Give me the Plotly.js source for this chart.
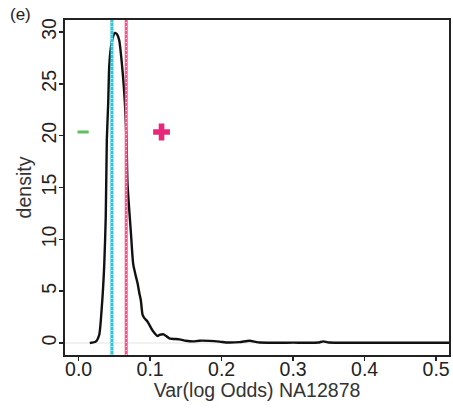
<!DOCTYPE html>
<html><head><meta charset="utf-8">
<script src="https://cdn.plot.ly/plotly-3.0.1.min.js"></script>
<style>html,body{margin:0;padding:0;background:#fff}#chart{width:453px;height:410px}</style>
</head><body><div id="chart"></div>
<script>
// density curve of Var(log Odds) NA12878
const densX = [0.0157,0.024,0.0288,0.0325,0.0358,0.038,0.0395,0.0414,0.0428,0.045,0.048,0.0508,0.0535,0.0568,0.0614,0.0648,0.067,0.0684,0.0732,0.0764,0.0802,0.0825,0.085,0.087,0.0895,0.092,0.0965,0.1035,0.1105,0.113,0.119,0.127,0.141,0.150,0.160,0.169,0.197,0.206,0.225,0.239,0.248,0.253,0.30,0.335,0.342,0.35,0.40,0.45,0.50,0.55];
const densY = [0.0,0.13,0.77,3.5,7.4,12.2,19.6,23.1,26.6,28.4,29.5,29.9,29.8,29.2,26.3,23.1,19.6,15.4,10.6,7.6,6.4,5.75,4.8,4.15,2.7,2.4,2.05,1.2,0.67,0.77,0.83,0.45,0.35,0.22,0.15,0.22,0.13,0.05,0.08,0.22,0.1,0.04,0.03,0.04,0.15,0.04,0.02,0.02,0.02,0.02];
// reference vertical lines
const vlineX = [0.0466, 0.0666];
const vlineColors = ['#35C2D3', '#F0568A'];
// minus / plus symbols
const symX = [0.0063, 0.116];
const symY = [20.35, 20.35];
const symbols = ['line-ew', 'cross'];
const symColors = ['#5CBF5C', '#E8287A'];
const xTicks = [0, 0.1, 0.2, 0.3, 0.4, 0.5];
const xTickText = ['0.0', '0.1', '0.2', '0.3', '0.4', '0.5'];
const yTicks = [0, 5, 10, 15, 20, 25, 30];
const xRange = [-0.019, 0.518];
const yRange = [-1.16, 31.15];

const traces = [
  {x: densX, y: densY, type: 'scatter', mode: 'lines', line: {color: '#111', width: 2.4, shape: 'spline', smoothing: 0.6}, hoverinfo: 'skip'},
  {x: [symX[0]], y: [symY[0]], type: 'scatter', mode: 'markers', marker: {symbol: symbols[0], size: 8, color: symColors[0], line: {color: symColors[0], width: 3}}},
  {x: [symX[1]], y: [symY[1]], type: 'scatter', mode: 'markers', marker: {symbol: symbols[1], size: 14, color: symColors[1], line: {width: 0}}},
  // carrier for the label axes (invisible)
  {x: [xTicks[0]], y: [yTicks[0]], xaxis: 'x2', yaxis: 'y2', type: 'scatter', mode: 'markers', marker: {opacity: 0, size: 1}, hoverinfo: 'skip'}
];

const shapes = [{type: 'line', xref: 'paper', x0: 0, x1: 1, yref: 'y', y0: 0, y1: 0, line: {color: '#ececec', width: 1.5}, layer: 'below'}];
vlineX.forEach((x, i) => {
  shapes.push({type: 'line', xref: 'x', x0: x, x1: x, yref: 'paper', y0: 0, y1: 1, line: {color: vlineColors[i], width: 3}});
  shapes.push({type: 'line', xref: 'x', x0: x, x1: x, yref: 'paper', y0: 0, y1: 1, line: {color: '#ffffff', width: 1, dash: '1px,3px'}});
});

const frameAxis = {
  showgrid: false, zeroline: false, showline: true, mirror: true, linecolor: '#222', linewidth: 2,
  ticks: 'outside', ticklen: 4, tickwidth: 1.5, tickcolor: '#222', showticklabels: false
};
const labelAxis = {
  showgrid: false, zeroline: false, showline: false, ticks: '', anchor: 'free', position: 0,
  tickfont: {size: 19.5, color: '#222'}
};

const layout = {
  width: 453, height: 410,
  margin: {l: 65, r: 4, t: 20, b: 55},
  paper_bgcolor: '#fff', plot_bgcolor: '#fff',
  showlegend: false,
  font: {family: 'Liberation Sans, Arial, sans-serif', color: '#222'},
  xaxis: Object.assign({}, frameAxis, {range: xRange, tickvals: xTicks}),
  yaxis: Object.assign({}, frameAxis, {range: yRange, tickvals: yTicks}),
  xaxis2: Object.assign({}, labelAxis, {overlaying: 'x', range: xRange, tickvals: xTicks, ticktext: xTickText,
    title: {text: 'Var(log Odds) NA12878', font: {size: 19.5, color: '#333'}, standoff: 2}}),
  yaxis2: Object.assign({}, labelAxis, {overlaying: 'y', side: 'left', position: 0, range: yRange, tickvals: yTicks, tickangle: -90,
    ticks: 'outside', ticklen: 1, tickcolor: 'rgba(0,0,0,0)',
    title: {text: 'density', font: {size: 19.5, color: '#333'}, standoff: 0}}),
  shapes: shapes,
  annotations: [{text: '(e)', xref: 'paper', yref: 'paper', x: -0.117, y: 1.015, xanchor: 'center', yanchor: 'middle', showarrow: false, font: {size: 17, color: '#222'}}]
};

Plotly.newPlot('chart', traces, layout, {displayModeBar: false, staticPlot: true});
</script></body></html>
